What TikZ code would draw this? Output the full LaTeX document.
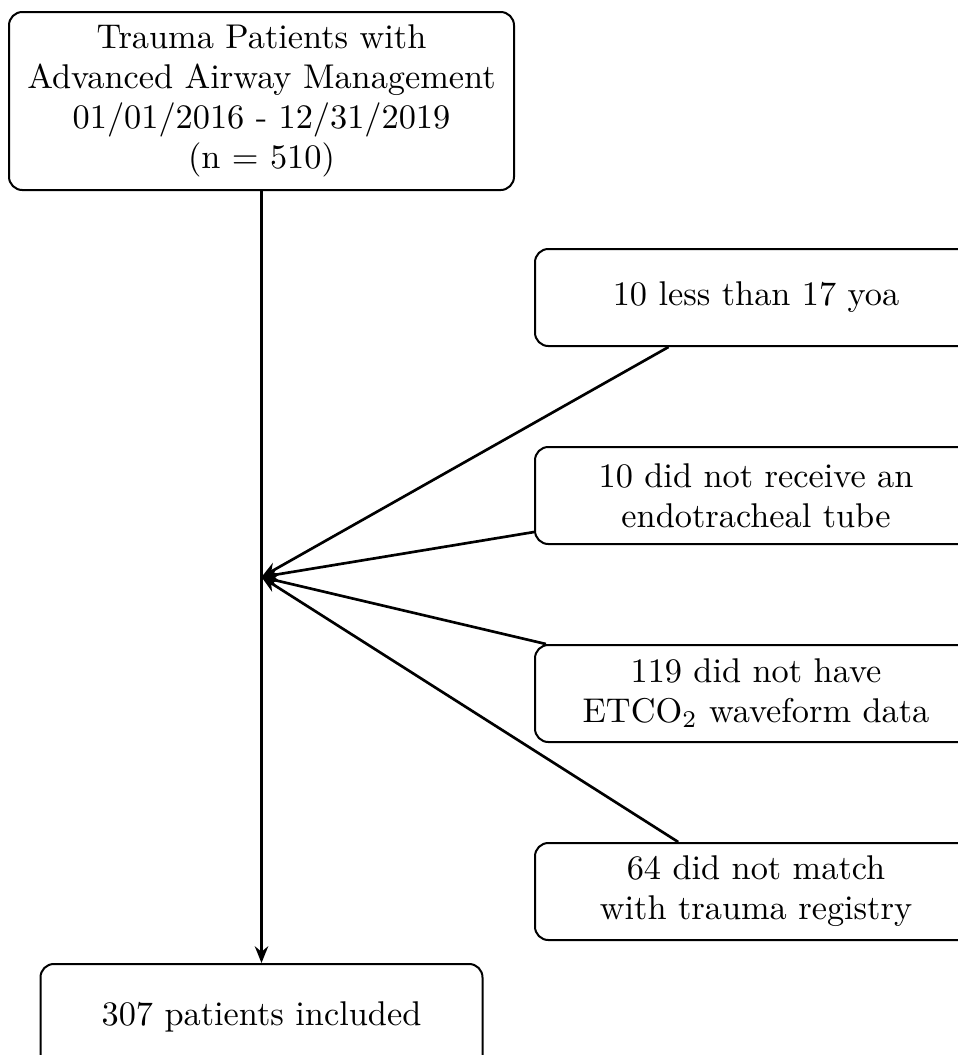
\documentclass[tikz,border=0pt]{standalone}
\usepackage{tikz}
\usetikzlibrary{arrows.meta,calc,positioning}

\begin{document}
\begin{tikzpicture}[
      box/.style={draw,semithick,rounded corners=4pt,fill=white,
        align=center,minimum width=132.6pt,minimum height=29.1pt,
        font=\fontsize{10.3}{12}\selectfont},
      arrow/.style={-{Stealth[length=5pt,width=4pt]},thick}
    ]
      \useasboundingbox (0,0) rectangle (287.1pt,-316.5pt);
      \node[box,minimum width=151.5pt,minimum height=53.4pt] (start) at (78.45pt,-30.3pt)
        {Trauma Patients with\\Advanced Airway Management\\01/01/2016 - 12/31/2019\\(n = 510)};
      \node[box,minimum height=32pt,below=231.6pt of start] (incl) {307 patients included};
      \node[box,anchor=north west] (age) at (160.2pt,-74.4pt) {10 less than 17 yoa};
      \node[box,below=29.7pt of age] (noett) {10 did not receive an\\endotracheal tube};
      \node[box,below=29.7pt of noett] (noetco) {119 did not have\\ETCO\textsubscript{2} waveform data};
      \node[box,below=29.7pt of noetco] (nomatch) {64 did not match\\with trauma registry};
      \coordinate (merge) at ($(start.south)!0.5!(incl.north)$);
      \draw[arrow] (start.south) -- (incl.north);
      \draw[arrow] (age) -- (merge);
      \draw[arrow] (noett) -- (merge);
      \draw[arrow] (noetco) -- (merge);
      \draw[arrow] (nomatch) -- (merge);
    \end{tikzpicture}
\end{document}
